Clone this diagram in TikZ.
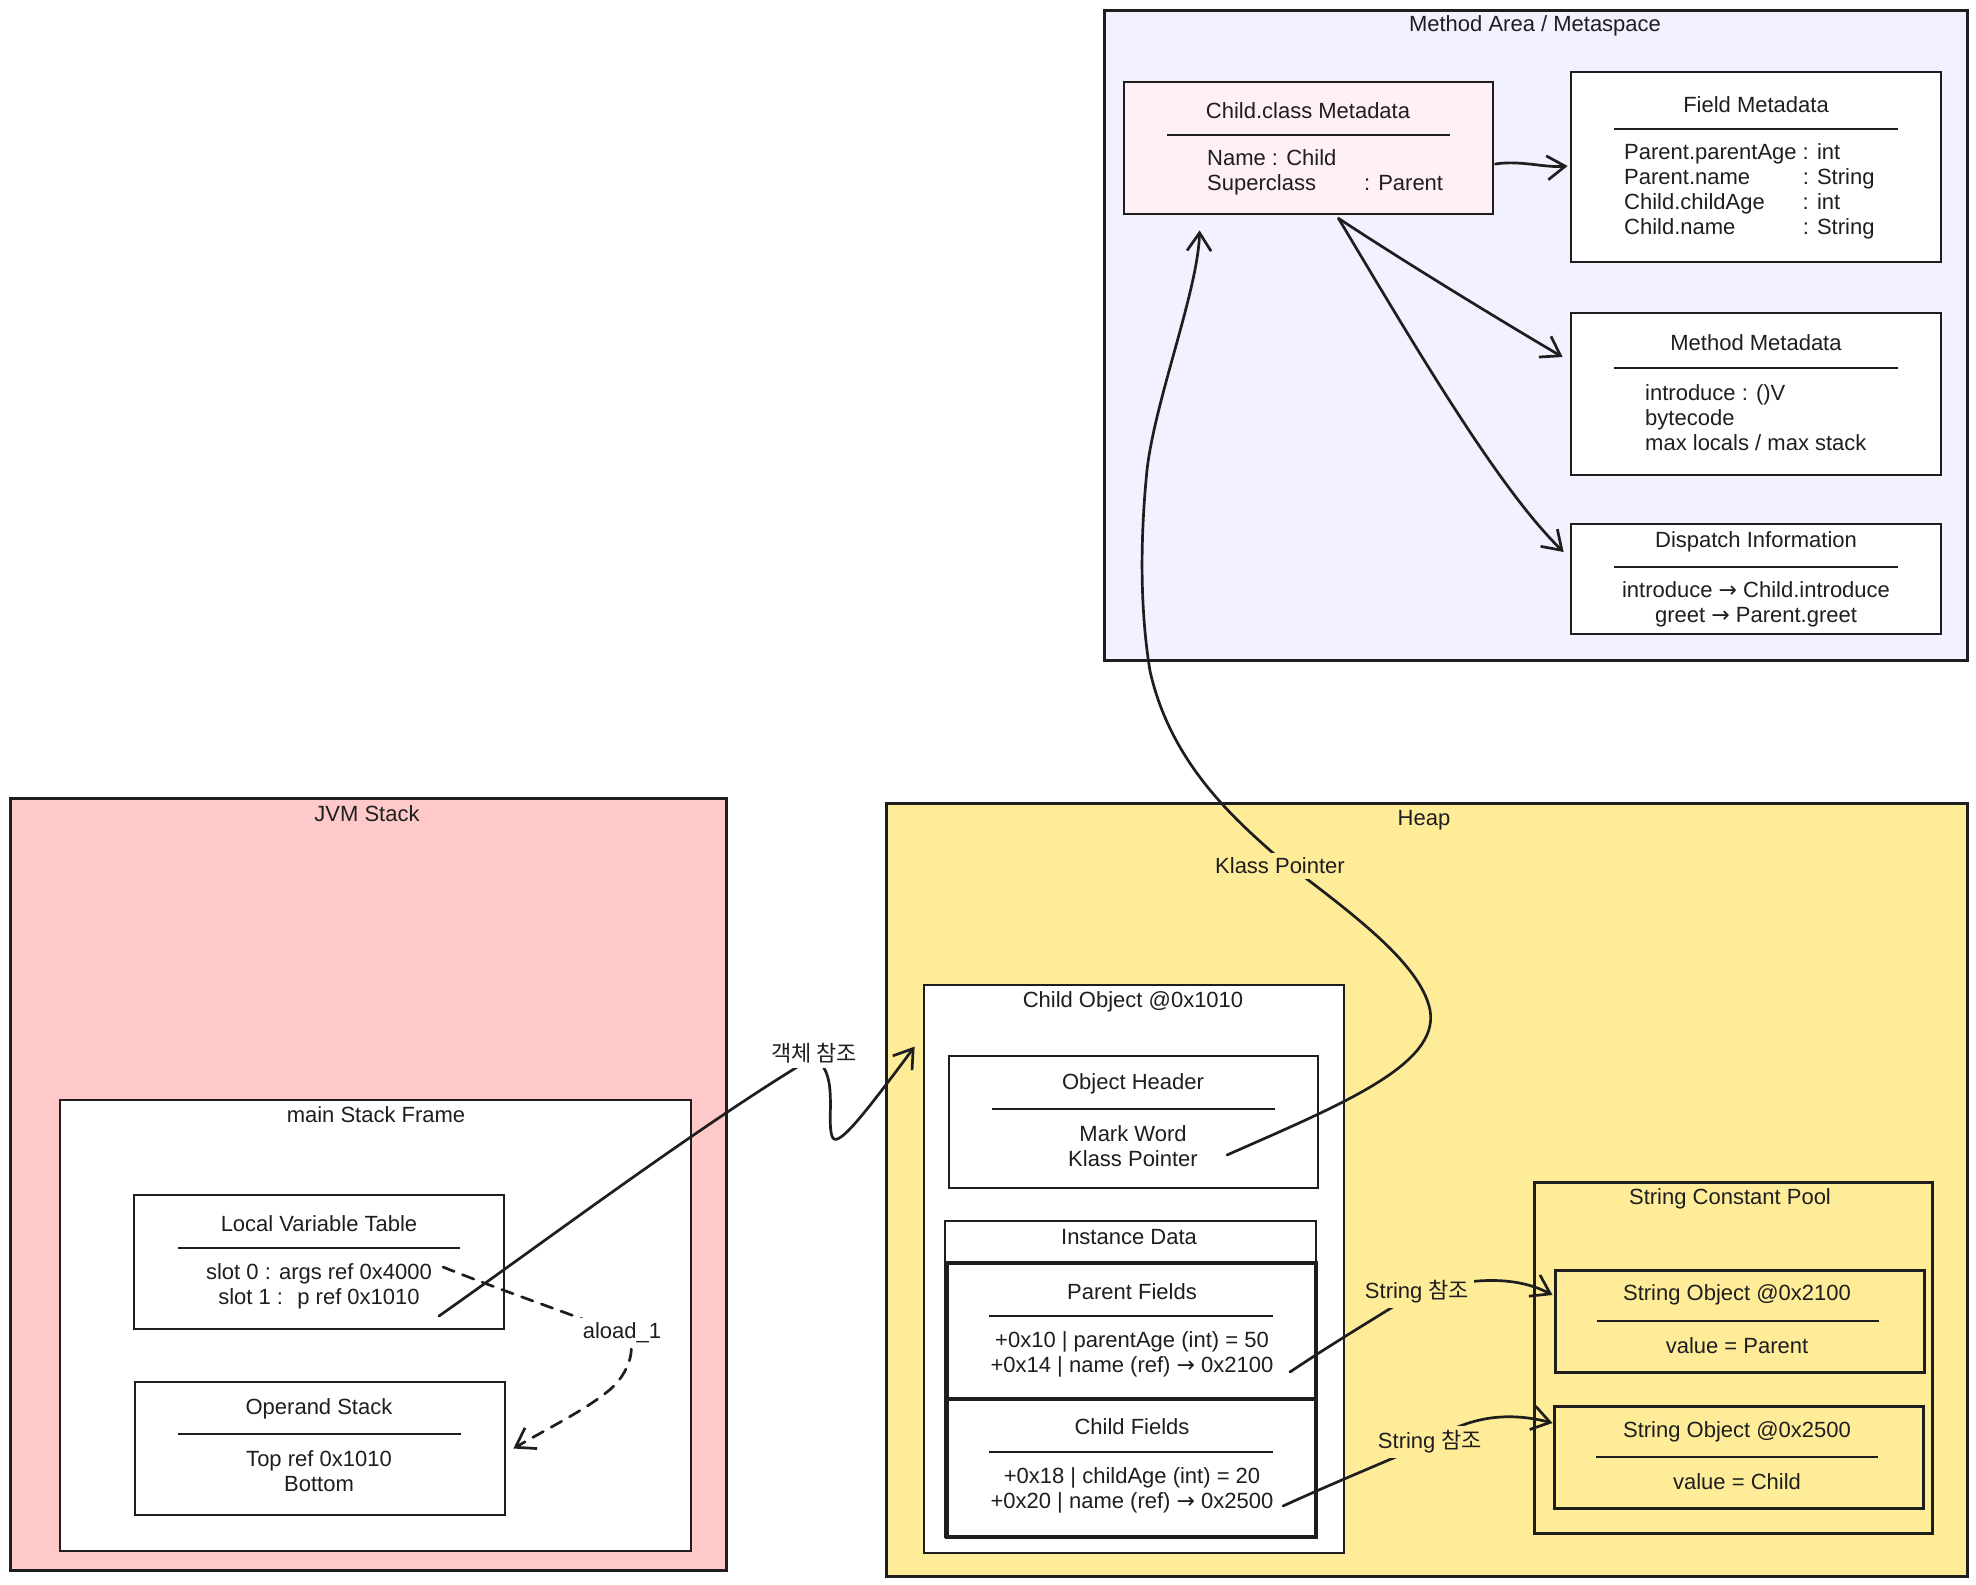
\documentclass[tikz,border=0pt]{standalone}
\usepackage{fontspec}
\setmainfont{Liberation Sans}
\newfontfamily\krfont{Noto Sans CJK KR}
\newfontfamily\symfont{DejaVu Sans}
\usetikzlibrary{arrows.meta,fit,calc}
\definecolor{metabg}{HTML}{F3F0FF}
\definecolor{pinkbg}{HTML}{FFF0F6}
\definecolor{stackbg}{HTML}{FFC9C9}
\definecolor{heapbg}{HTML}{FFEC99}
\definecolor{ink}{HTML}{1E1E1E}
\newcommand{\myto}{{\symfont →}}
\begin{document}
\begin{tikzpicture}[x=1pt,y=-1pt,
  font=\fontsize{22}{25}\selectfont,
  region/.style={draw=ink, line width=3pt, inner sep=0pt},
  card/.style={draw=ink, line width=2.8pt, inner sep=0pt, fill=white},
  thick card/.style={card, line width=3.4pt},
  txt/.style={inner sep=0pt, text=ink, align=center},
  txtl/.style={inner sep=0pt, text=ink, align=left, anchor=west},
  rule/.style={draw=ink, line width=1.6pt},
  conn/.style={draw=ink, line width=2.7pt, line cap=round, line join=round,
    -{Straight Barb[length=18pt,width=24pt,line width=2.7pt]}},
  dconn/.style={conn, dash pattern=on 12pt off 9pt},
  lab/.style={inner sep=5pt, text=ink},
]
\useasboundingbox (0,0) rectangle (1976,1585);
\fill[white] (0,0) rectangle (1976,1585);

% ---------------- Method Area ----------------
\node[region, fill=metabg, fit={(1104,10) (1967,660)}] (marea) {};
\node[txt] (mareaT) at (1535,26) {Method Area / Metaspace};

\node[card, fill=pinkbg, fit={(1124,82) (1493,214)}] (cmeta) {};
\node[txt] (cmetaT) at (1308,111) {Child.class Metadata};
\draw[rule] (1167,135) -- (1450,135);
\node[txtl] (cmetaB) at (1207,172) {Name : Child\\Superclass\hspace{48pt}: Parent};

\node[card, fit={(1571,72) (1941,262)}] (fmeta) {};
\node[txt] (fmetaT) at (1756,105) {Field Metadata};
\draw[rule] (1614,129) -- (1898,129);
\node[txtl] (fmetaB) at (1624,192) {\begin{tabular}{@{}l@{\ }l@{}}
Parent.parentAge & : int\\
Parent.name & : String\\
Child.childAge & : int\\
Child.name & : String
\end{tabular}};

\node[card, fit={(1571,313) (1941,475)}] (mmeta) {};
\node[txt] (mmetaT) at (1756,343) {Method Metadata};
\draw[rule] (1614,368) -- (1898,368);
\node[txtl] (mmetaB) at (1645,418) {introduce : ()V\\bytecode\\max locals / max stack};

\node[card, fit={(1571,524) (1941,634)}] (dinfo) {};
\node[txt] (dinfoT) at (1756,542) {Dispatch Information};
\draw[rule] (1614,567) -- (1898,567);
\node[txt] (dinfoB) at (1756,604) {introduce \myto\ Child.introduce\\greet \myto\ Parent.greet};

% ---------------- JVM Stack ----------------
\node[region, fill=stackbg, fit={(10,798) (726,1570)}] (jvm) {};
\node[txt] (jvmT) at (367,814) {JVM Stack};
\node[card, fit={(60,1100) (691,1551)}] (frame) {};
\node[txt] (frameT) at (376,1115) {main Stack Frame};

\node[card, fit={(134,1195) (504,1329)}] (lvt) {};
\node[txt] (lvtT) at (319,1224) {Local Variable Table};
\draw[rule] (178,1248) -- (460,1248);
\node[txt] (lvtB) at (319,1286) {slot 0 : args ref 0x4000\\slot 1 : \ p ref 0x1010};

\node[card, fit={(135,1382) (505,1515)}] (ops) {};
\node[txt] (opsT) at (319,1409) {Operand Stack};
\draw[rule] (178,1434) -- (461,1434);
\node[txt] (opsB) at (319,1471) {Top ref 0x1010\\Bottom};

% ---------------- Heap ----------------
\node[region, fill=heapbg, fit={(886,803) (1967,1576)}] (heap) {};
\node[txt] (heapT) at (1424,820) {Heap};

\node[card, fit={(924,985) (1344,1553)}] (cobj) {};
\node[txt] (cobjT) at (1133,1002) {Child Object @0x1010};

\node[card, fit={(949,1056) (1318,1188)}] (ohdr) {};
\node[txt] (ohdrT) at (1133,1084) {Object Header};
\draw[rule] (992,1109) -- (1275,1109);
\node[txt] (ohdrB) at (1133,1146) {Mark Word\\Klass Pointer};

\node[card, fit={(945,1221) (1316,1537)}] (idata) {};
\node[txt] (idataT) at (1129,1237) {Instance Data};
\node[thick card, fit={(947,1263) (1316,1399)}] (pf) {};
\node[txt] (pfT) at (1132,1292) {Parent Fields};
\draw[rule] (989,1316) -- (1273,1316);
\node[txt] (pfB) at (1132,1354) {+0x10 | parentAge (int) = 50\\+0x14 | name (ref) \myto\ 0x2100};
\node[thick card, fit={(947,1399) (1316,1537)}] (cf) {};
\node[txt] (cfT) at (1132,1427) {Child Fields};
\draw[rule] (989,1452) -- (1273,1452);
\node[txt] (cfB) at (1132,1490) {+0x18 | childAge (int) = 20\\+0x20 | name (ref) \myto\ 0x2500};

\node[region, fit={(1534,1182) (1932,1533)}] (pool) {};
\node[txt] (poolT) at (1730,1199) {String Constant Pool};
\node[region, fit={(1555,1270) (1924,1372)}] (s1) {};
\node[txt] (s1T) at (1737,1295) {String Object @0x2100};
\draw[rule] (1597,1321) -- (1879,1321);
\node[txt] (s1B) at (1737,1346) {value = Parent};
\node[region, fit={(1554,1406) (1923,1508)}] (s2) {};
\node[txt] (s2T) at (1737,1432) {String Object @0x2500};
\draw[rule] (1596,1457) -- (1878,1457);
\node[txt] (s2B) at (1737,1482) {value = Child};

% ---------------- connectors ----------------
\draw[conn] ($(cmeta.east)+(1,16)$) .. controls (1520,160) and (1545,168) .. ($(fmeta.west)+(-2,-1)$);
\draw[conn] ($(cmeta.south)+(30,3)$) .. controls (1420,272) and (1525,335) .. ($(mmeta.west)+(-7,-37)$);
\draw[conn] ($(cmeta.south)+(30,3)$) .. controls (1420,355) and (1500,490) .. ($(dinfo.west)+(-6,-27)$);

% Klass pointer
\coordinate (kpstart) at (1227,1155);
\draw[conn] (kpstart) .. controls (1340,1105) and (1440,1065) .. (1430,1010)
  .. controls (1420,960) and (1340,905) .. (1273,853)
  .. controls (1230,815) and (1170,760) .. (1150,671)
  .. controls (1140,610) and (1140,540) .. (1147,470)
  .. controls (1155,400) and (1198,290) .. ($(cmeta.south west)+(77,15)$);
\node[lab, fill=heapbg] (kplab) at (1280,866) {Klass Pointer};

% object reference
\coordinate (prefstart) at (439,1316);
\draw[conn] (prefstart) .. controls (540,1245) and (700,1125) .. (812,1058)
  .. controls (840,1068) and (826,1120) .. (832,1136)
  .. controls (836,1150) and (860,1120) .. ($(cobj.north west)+(-8,63)$);
\node[lab, fill=white] (preflab) at (814,1053) {\krfont 객체 참조};

% aload_1
\coordinate (alstart) at (443,1267);
\draw[dconn] (alstart) .. controls (500,1290) and (560,1310) .. (622,1334)
  .. controls (640,1340) and (630,1375) .. (607,1392)
  .. controls (585,1410) and (545,1430) .. ($(ops.east)+(7,0)$);
\node[lab, fill=white] (allab) at (622,1333) {aload\_1};

% String references
\coordinate (s1start) at (1290,1372);
\draw[conn] (s1start) .. controls (1330,1345) and (1380,1315) .. (1417,1292)
  .. controls (1480,1275) and (1520,1278) .. ($(s1.west)+(-1,-26)$);
\node[lab, fill=heapbg] (s1lab) at (1417,1292) {String {\krfont 참조}};

\coordinate (s2start) at (1283,1506);
\draw[conn] (s2start) .. controls (1340,1480) and (1390,1460) .. (1430,1442)
  .. controls (1470,1415) and (1510,1412) .. ($(s2.west)+(0,-34)$);
\node[lab, fill=heapbg] (s2lab) at (1430,1442) {String {\krfont 참조}};
\end{tikzpicture}
\end{document}
